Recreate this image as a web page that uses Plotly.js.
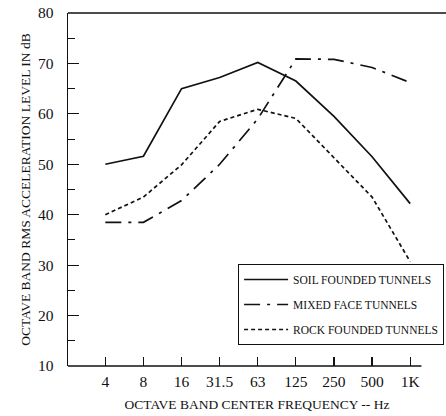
<!DOCTYPE html>
<html>
<head>
<meta charset="utf-8">
<script src="https://cdn.plot.ly/plotly-3.0.1.min.js"></script>
<style>html,body{margin:0;padding:0;background:#fff;}#chart{width:446px;height:416px;}</style>
</head>
<body>
<div id="chart"></div>
<script>
// Octave band center frequencies (category labels)
var frequencies = ['4', '8', '16', '31.5', '63', '125', '250', '500', '1K'];
// RMS acceleration levels in dB
var soilFounded = [50, 51.6, 65, 67.2, 70.2, 66.5, 59.5, 51.5, 42.2];
var mixedFace   = [38.5, 38.5, 42.8, 50, 59, 70.9, 70.8, 69.2, 66.2];
var rockFounded = [40, 43.5, 49.9, 58.5, 60.9, 59.1, 51.3, 43.5, 30.7];
var seriesNames = ['SOIL FOUNDED TUNNELS', 'MIXED FACE TUNNELS', 'ROCK FOUNDED TUNNELS'];

var serif = 'Liberation Serif, Times New Roman, serif';

var traces = [
  {x: frequencies, y: soilFounded, name: seriesNames[0], legendgroup: 'a', mode: 'lines',
   line: {color: '#111', width: 1.7}},
  {x: frequencies, y: mixedFace, name: seriesNames[1], legendgroup: 'b', mode: 'lines',
   line: {color: '#111', width: 1.7, dash: '16px,7px,3px,7px'}},
  {x: frequencies, y: rockFounded, name: seriesNames[2], legendgroup: 'c', mode: 'lines',
   line: {color: '#111', width: 1.7, dash: '4px,3px'}}
];

var layout = {
  width: 446, height: 416,
  margin: {l: 68, r: 0, t: 13, b: 50},
  paper_bgcolor: '#fff', plot_bgcolor: '#fff',
  font: {family: serif, color: '#111'},
  showlegend: true,
  legend: {
    x: 0.45, y: 0.289, xanchor: 'left', yanchor: 'top',
    bordercolor: '#111', borderwidth: 1, bgcolor: '#fff',
    font: {family: serif, size: 11.5, color: '#111'},
    tracegroupgap: 6, itemwidth: 44
  },
  xaxis: {
    type: 'category', range: [-0.98, 8.94],
    showline: false, showgrid: false, zeroline: false,
    ticks: 'inside', ticklen: 9, tickwidth: 1.2, tickcolor: '#111',
    tickfont: {family: serif, size: 15.5, color: '#111'},
    ticklabelstandoff: 4,
    title: {text: 'OCTAVE BAND CENTER FREQUENCY -- Hz', font: {family: serif, size: 13.5, color: '#111'}, standoff: 11},
    automargin: false
  },
  yaxis: {
    range: [10, 80], dtick: 10, tick0: 10,
    showline: true, linecolor: '#111', linewidth: 1.3,
    showgrid: false, zeroline: false,
    ticks: 'inside', ticklen: 11, tickwidth: 1.2, tickcolor: '#111',
    minor: {dtick: 5, ticks: 'inside', ticklen: 7, tickwidth: 1, tickcolor: '#111', showgrid: false},
    tickfont: {family: serif, size: 15.5, color: '#111'},
    ticklabelstandoff: 10,
    title: {text: 'OCTAVE BAND RMS ACCELERATION LEVEL IN dB', font: {family: serif, size: 13.5, color: '#111'}, standoff: 4},
    automargin: false
  },
  shapes: [
    {type: 'line', xref: 'paper', yref: 'paper', x0: 0, x1: 0.935, y0: 0, y1: 0, line: {color: '#111', width: 1.3}},
    {type: 'line', xref: 'paper', yref: 'paper', x0: 0, x1: 1, y0: 1, y1: 1, line: {color: '#111', width: 1.3}}
  ]
};

Plotly.newPlot('chart', traces, layout, {displayModeBar: false, staticPlot: true});
</script>
</body>
</html>
